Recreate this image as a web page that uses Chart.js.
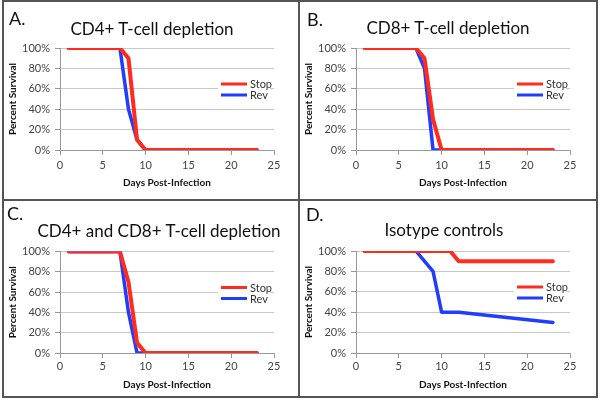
<!DOCTYPE html>
<html>
<head>
<meta charset="utf-8">
<script src="https://cdn.jsdelivr.net/npm/chart.js@4.4.1/dist/chart.umd.min.js"></script>
<style>
  body { margin: 0; background: #fff; width: 600px; height: 401px; position: relative; overflow: hidden; font-family: Lato, sans-serif; }
  .rule { position: absolute; background: #555; }
  .frame { position: absolute; border: 2px solid #555; box-sizing: border-box; }
  canvas { position: absolute; }
  .letter { position: absolute; font-size: 18px; line-height: 18px; color: #111; }
  .title { position: absolute; font-size: 17px; line-height: 17px; color: #111; white-space: nowrap; transform: translateX(-50%); }
</style>
</head>
<body>
<div class="frame" style="left:2px;top:0;width:596px;height:398px"></div>
<div class="rule" style="left:298px;top:0;width:2px;height:398px"></div>
<div class="rule" style="left:2px;top:199px;width:596px;height:2px"></div>

<script>
// survival data: days post-infection vs percent survival
const seriesNames = ["Stop", "Rev"];
const panelLetters = ["A.", "B.", "C.", "D."];
const panelTitles = [
    "CD4+ T-cell depletion",
    "CD8+ T-cell depletion",
    "CD4+ and CD8+ T-cell depletion",
    "Isotype controls",
];

const stopA_days = [1, 7, 8, 9, 10, 23];
const stopA_pct  = [100, 100, 90, 10, 0, 0];
const revA_days  = [1, 7, 8, 9, 10, 23];
const revA_pct   = [100, 100, 40, 10, 0, 0];

const stopB_days = [1, 7, 8, 9, 10, 23];
const stopB_pct  = [100, 100, 90, 30, 0, 0];
const revB_days  = [1, 7, 8, 9, 23];
const revB_pct   = [100, 100, 80, 0, 0];

const stopC_days = [1, 7, 8, 9, 10, 23];
const stopC_pct  = [100, 100, 70, 10, 0, 0];
const revC_days  = [1, 7, 8, 9, 23];
const revC_pct   = [100, 100, 40, 0, 0];

const stopD_days = [1, 11, 12, 23];
const stopD_pct  = [100, 100, 90, 90];
const revD_days  = [1, 7, 9, 10, 12, 23];
const revD_pct   = [100, 100, 80, 40, 40, 30];

const xMax = 25, xStep = 5;
const yMax = 100, yStep = 20;

const RED = "#ff2b1c";
const BLUE = "#1f3cff";

function pts(days, pct) {
    return days.map((d, i) => ({ x: d, y: pct[i] }));
}

// small boxed legend sitting in the upper right of the plot, like the excel one
const boxLegend = {
    id: "boxLegend",
    afterDraw(chart) {
        const { ctx, chartArea: a } = chart;
        ctx.save();
        ctx.fillStyle = "#fff";
        ctx.fillRect(a.right - 56, a.top + 30, 52, 23);
        chart.data.datasets.forEach((ds, i) => {
            const y = a.top + 36 + i * 11;
            ctx.strokeStyle = ds.borderColor;
            ctx.lineWidth = 3;
            ctx.beginPath();
            ctx.moveTo(a.right - 53, y);
            ctx.lineTo(a.right - 27, y);
            ctx.stroke();
            ctx.fillStyle = "#333";
            ctx.font = "11px Lato";
            ctx.textBaseline = "middle";
            ctx.fillText(ds.label, a.right - 24, y + 0.5);
        });
        ctx.restore();
    },
};

const panels = [
    { stop: pts(stopA_days, stopA_pct), rev: pts(revA_days, revA_pct),
      box: { left: 4, top: 2, w: 294, h: 197, padTop: 46, padRight: 24, yw: 56, xh: 49, xTitlePad: 10, xTickPad: 4 },
      letter: { x: 9, y: 9 }, title: { x: 152, y: 20 } },
    { stop: pts(stopB_days, stopB_pct), rev: pts(revB_days, revB_pct),
      box: { left: 300, top: 2, w: 296, h: 197, padTop: 46, padRight: 26, yw: 56, xh: 49, xTitlePad: 10, xTickPad: 4 },
      letter: { x: 307, y: 10 }, title: { x: 448, y: 19 } },
    { stop: pts(stopC_days, stopC_pct), rev: pts(revC_days, revC_pct),
      box: { left: 4, top: 201, w: 294, h: 196, padTop: 50.5, padRight: 24, yw: 56, xh: 44, xTitlePad: 6, xTickPad: 2 },
      letter: { x: 7, y: 204 }, title: { x: 159, y: 222 } },
    { stop: pts(stopD_days, stopD_pct), rev: pts(revD_days, revD_pct),
      box: { left: 300, top: 201, w: 296, h: 196, padTop: 50, padRight: 26, yw: 56, xh: 44, xTitlePad: 6, xTickPad: 2 },
      letter: { x: 306, y: 205 }, title: { x: 444, y: 221 } },
];

panels.forEach((p, i) => {
    const b = p.box;
    const canvas = document.createElement("canvas");
    canvas.width = b.w;
    canvas.height = b.h;
    canvas.style.left = b.left + "px";
    canvas.style.top = b.top + "px";
    document.body.appendChild(canvas);

    const letter = document.createElement("div");
    letter.className = "letter";
    letter.textContent = panelLetters[i];
    letter.style.left = p.letter.x + "px";
    letter.style.top = p.letter.y + "px";
    document.body.appendChild(letter);

    const title = document.createElement("div");
    title.className = "title";
    title.textContent = panelTitles[i];
    title.style.left = p.title.x + "px";
    title.style.top = p.title.y + "px";
    document.body.appendChild(title);

    new Chart(canvas, {
        type: "line",
        data: {
            datasets: [
                { label: seriesNames[0], data: p.stop, borderColor: RED, backgroundColor: RED, borderWidth: 4 },
                { label: seriesNames[1], data: p.rev, borderColor: BLUE, backgroundColor: BLUE, borderWidth: 3.5 },
            ],
        },
        options: {
            responsive: false,
            animation: false,
            layout: { padding: { left: 0, top: b.padTop, right: b.padRight, bottom: 0 } },
            elements: {
                point: { radius: 0 },
                line: { tension: 0, borderCapStyle: "round", borderJoinStyle: "round" },
            },
            plugins: { legend: { display: false }, tooltip: { enabled: false } },
            scales: {
                x: {
                    type: "linear", min: 0, max: xMax,
                    ticks: { stepSize: xStep, color: "#444", padding: b.xTickPad, font: { family: "Lato", size: 11 } },
                    grid: { drawOnChartArea: false, drawTicks: true, tickLength: 5, tickColor: "#999" },
                    border: { color: "#999", width: 1 },
                    title: { display: true, text: "Days Post-Infection", color: "#111",
                             font: { family: "Lato", size: 10, weight: "bold" }, padding: { top: 0, bottom: b.xTitlePad } },
                    afterFit(s) { s.height = b.xh; },
                },
                y: {
                    min: 0, max: yMax,
                    ticks: { stepSize: yStep, color: "#444", padding: 5, font: { family: "Lato", size: 11 },
                             callback: v => v + "%" },
                    grid: { color: "#c8c8c8", tickColor: "#999", tickLength: 5 },
                    border: { color: "#999", width: 1 },
                    title: { display: true, text: "Percent Survival", color: "#111",
                             font: { family: "Lato", size: 10, weight: "bold" }, padding: { top: 3, bottom: 0 } },
                    afterFit(s) { s.width = b.yw; },
                },
            },
        },
        plugins: [boxLegend],
    });
});
</script>
</body>
</html>
